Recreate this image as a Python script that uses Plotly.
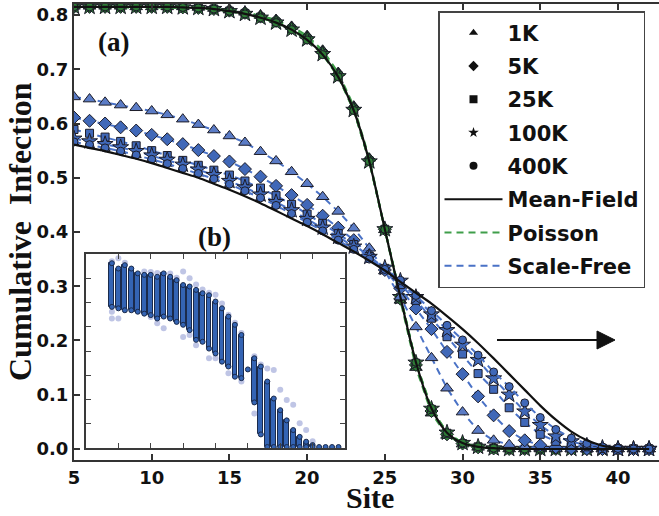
import plotly.graph_objects as go

# ---------------- data ----------------
sites = list(range(5, 43))

mf_poisson = [0.815, 0.815, 0.815, 0.815, 0.815, 0.815, 0.815, 0.814,
              0.813, 0.811, 0.807, 0.802, 0.795, 0.786, 0.773, 0.754, 0.727, 0.686, 0.624, 0.530,
              0.405, 0.280, 0.160, 0.075, 0.030, 0.011, 0.004, 0.0015, 0.0005,
              0.0, 0.0, 0.0, 0.0, 0.0, 0.0, 0.0, 0.0, 0.0]
mf_scalefree = [0.561, 0.555, 0.549, 0.542, 0.535, 0.527, 0.518, 0.509, 0.500, 0.489, 0.478,
                0.466, 0.453, 0.439, 0.425, 0.411, 0.396, 0.380, 0.364, 0.347, 0.329,
                0.308, 0.288, 0.268, 0.245, 0.221, 0.195, 0.167, 0.138, 0.109, 0.080,
                0.054, 0.032, 0.016, 0.006, 0.0015, 0.0002, 0.0]

pois_1k = [0.816, 0.816, 0.816, 0.816, 0.815, 0.815, 0.815, 0.815,
           0.814, 0.812, 0.809, 0.805, 0.799, 0.791, 0.779, 0.762, 0.735, 0.694, 0.632, 0.536,
           0.404, 0.274, 0.150, 0.066, 0.025, 0.009, 0.003, 0.001, 0.0,
           0.0, 0.0, 0.0, 0.0, 0.0, 0.0, 0.0, 0.0, 0.0]
pois_5k = [0.815, 0.815, 0.815, 0.815, 0.815, 0.815, 0.815, 0.814,
           0.813, 0.811, 0.808, 0.804, 0.797, 0.789, 0.776, 0.758, 0.731, 0.690, 0.628, 0.533,
           0.405, 0.277, 0.155, 0.070, 0.027, 0.010, 0.003, 0.001, 0.0,
           0.0, 0.0, 0.0, 0.0, 0.0, 0.0, 0.0, 0.0, 0.0]
pois_25k = [0.815, 0.815, 0.815, 0.815, 0.815, 0.815, 0.815, 0.814,
            0.813, 0.811, 0.807, 0.803, 0.796, 0.787, 0.774, 0.756, 0.729, 0.688, 0.626, 0.531,
            0.405, 0.279, 0.158, 0.073, 0.029, 0.010, 0.004, 0.001, 0.0,
            0.0, 0.0, 0.0, 0.0, 0.0, 0.0, 0.0, 0.0, 0.0]
pois_100k = [0.815, 0.815, 0.815, 0.815, 0.815, 0.815, 0.815, 0.814,
             0.813, 0.811, 0.807, 0.802, 0.795, 0.786, 0.773, 0.755, 0.728, 0.687, 0.625, 0.530,
             0.405, 0.280, 0.159, 0.074, 0.030, 0.011, 0.004, 0.001, 0.0,
             0.0, 0.0, 0.0, 0.0, 0.0, 0.0, 0.0, 0.0, 0.0]
pois_400k = [0.815, 0.815, 0.815, 0.815, 0.815, 0.815, 0.815, 0.814,
             0.813, 0.811, 0.807, 0.802, 0.795, 0.786, 0.773, 0.754, 0.727, 0.686, 0.624, 0.530,
             0.405, 0.280, 0.160, 0.075, 0.030, 0.011, 0.004, 0.0015, 0.0005,
             0.0, 0.0, 0.0, 0.0, 0.0, 0.0, 0.0, 0.0, 0.0]

sf_1k = [0.649, 0.645, 0.639, 0.634, 0.629, 0.623, 0.616, 0.608, 0.598, 0.588, 0.577,
         0.565, 0.548, 0.531, 0.511, 0.489, 0.465, 0.438, 0.407, 0.370, 0.328,
         0.280, 0.225, 0.168, 0.112, 0.068, 0.034, 0.016, 0.008, 0.004, 0.002,
         0.001, 0.0, 0.0, 0.0, 0.0, 0.0, 0.0]
sf_5k = [0.611, 0.605, 0.600, 0.593, 0.587, 0.579, 0.571, 0.562, 0.551, 0.540, 0.530,
         0.516, 0.502, 0.485, 0.468, 0.450, 0.430, 0.408, 0.385, 0.357, 0.330,
         0.296, 0.259, 0.221, 0.179, 0.138, 0.097, 0.062, 0.033, 0.016, 0.007,
         0.003, 0.001, 0.0, 0.0, 0.0, 0.0, 0.0]
sf_25k = [0.589, 0.582, 0.575, 0.567, 0.559, 0.550, 0.541, 0.532, 0.523, 0.514, 0.505,
          0.494, 0.481, 0.467, 0.451, 0.433, 0.416, 0.397, 0.377, 0.355, 0.333,
          0.303, 0.274, 0.241, 0.207, 0.175, 0.139, 0.110, 0.076, 0.049, 0.027,
          0.014, 0.008, 0.004, 0.001, 0.0, 0.0, 0.0]
sf_100k = [0.572, 0.567, 0.562, 0.556, 0.549, 0.541, 0.533, 0.524, 0.515, 0.505, 0.494,
           0.482, 0.469, 0.455, 0.440, 0.424, 0.408, 0.391, 0.373, 0.354, 0.334,
           0.310, 0.280, 0.248, 0.219, 0.192, 0.164, 0.130, 0.100, 0.069, 0.044,
           0.023, 0.014, 0.006, 0.002, 0.0, 0.0, 0.0]
sf_400k = [0.566, 0.561, 0.555, 0.549, 0.542, 0.534, 0.526, 0.517, 0.508, 0.498, 0.488,
           0.476, 0.463, 0.449, 0.434, 0.418, 0.402, 0.385, 0.368, 0.350, 0.331,
           0.311, 0.283, 0.255, 0.228, 0.201, 0.173, 0.142, 0.115, 0.085, 0.058,
           0.036, 0.020, 0.010, 0.004, 0.001, 0.0, 0.0]

size_labels = ["1K", "5K", "25K", "100K", "400K"]
size_symbols = ["triangle-up", "diamond", "square", "star", "circle"]

# inset (b): per-site spread of cumulative infection
inset_cols = [4, 5, 6, 7, 8, 9, 10, 11, 12, 13, 14, 15, 16, 17, 18, 19, 20, 21, 22, 23, 24,
              26, 27, 28, 29, 30, 31, 32, 33, 34, 35]
inset_hi = [0.381, 0.370, 0.377, 0.370, 0.360, 0.357, 0.357, 0.353, 0.360, 0.353, 0.346,
            0.336, 0.333, 0.326, 0.319, 0.315, 0.302, 0.288, 0.271, 0.254, 0.233,
            0.185, 0.168, 0.137, 0.102, 0.078, 0.057, 0.037, 0.023, 0.013, 0.006]
inset_lo = [0.291, 0.288, 0.284, 0.284, 0.281, 0.277, 0.274, 0.267, 0.271, 0.267, 0.260,
            0.254, 0.243, 0.223, 0.219, 0.205, 0.195, 0.178, 0.168, 0.147, 0.144,
            0.094, 0.028, 0.002, 0.002, 0.002, 0.002, 0.002, 0.002, 0.002, 0.002]
inset_single_x = [25, 36, 37, 38, 39]
inset_single_y = [0.162, 0.002, 0.002, 0.002, 0.002]
inset_out_x = [4, 4, 4, 5, 5, 6, 9, 10, 10, 11, 11, 12, 13, 14, 15, 15, 16, 16, 17, 17,
               18, 19, 19, 20, 20, 21, 22, 22, 23, 24, 24, 26, 26, 27, 28, 29, 30, 31, 32,
               33, 34, 35]
inset_out_y = [0.385, 0.281, 0.267, 0.391, 0.267, 0.382, 0.364, 0.363, 0.270, 0.361, 0.257,
               0.247, 0.360, 0.351, 0.364, 0.229, 0.350, 0.233, 0.337, 0.212, 0.327, 0.320,
               0.185, 0.316, 0.185, 0.298, 0.275, 0.154, 0.258, 0.237, 0.137, 0.189, 0.071,
               0.172, 0.164, 0.161, 0.120, 0.099, 0.089, 0.051, 0.037, 0.014]

# ---------------- layout helpers ----------------
W, H = 659, 516
ML, MR, MT, MB = 74, 0, 4, 56
PW = W - ML - MR
PH = H - MT - MB


def pxx(px):
    return (px - ML) / PW


def pxy(py):
    return (H - MB - py) / PH


BLUE_LINE = "#4a72c6"
BLUE_FILL = "#4068b8"
TRI_FILL = "#5b7cc6"
GREEN_LINE = "#3f9e4a"
GREEN_FILL = "#2e7b36"
EDGE = "#1c1c28"

fig = go.Figure()

# ---- inset traces ----
fig.add_trace(go.Bar(
    x=inset_cols, y=[h - l for h, l in zip(inset_hi, inset_lo)], base=inset_lo,
    width=0.75, marker=dict(color="#3464b4", line=dict(color="#1b2b4c", width=1)),
    xaxis="x2", yaxis="y2", showlegend=False, hoverinfo="skip"))
fig.add_trace(go.Scatter(
    x=inset_out_x, y=inset_out_y, mode="markers",
    marker=dict(size=6, color="rgba(95,110,190,0.40)", line=dict(width=0)),
    xaxis="x2", yaxis="y2", showlegend=False, hoverinfo="skip"))
fig.add_trace(go.Scatter(
    x=inset_cols + inset_cols, y=inset_hi + inset_lo, mode="markers",
    marker=dict(size=5, color="#3464b4", line=dict(color="#1b2b4c", width=1)),
    xaxis="x2", yaxis="y2", showlegend=False, hoverinfo="skip"))
fig.add_trace(go.Scatter(
    x=inset_single_x, y=inset_single_y, mode="markers",
    marker=dict(size=5, color="#3464b4", line=dict(color="#1b2b4c", width=1)),
    xaxis="x2", yaxis="y2", showlegend=False, hoverinfo="skip"))

# ---- Poisson (green) ----
pois_series = [pois_1k, pois_5k, pois_25k, pois_100k, pois_400k]
sf_series = [sf_1k, sf_5k, sf_25k, sf_100k, sf_400k]
msizes = [11, 10, 8, 12, 8]

for vals, sym, ms in zip(pois_series, size_symbols, msizes):
    fig.add_trace(go.Scatter(
        x=sites, y=vals, mode="lines+markers",
        line=dict(color=GREEN_LINE, width=2, dash="7px,5px"),
        marker=dict(symbol=sym, size=ms, color=GREEN_FILL, line=dict(color=EDGE, width=1)),
        showlegend=False, hoverinfo="skip"))

for i, (vals, sym, ms) in enumerate(zip(sf_series, size_symbols, msizes)):
    fig.add_trace(go.Scatter(
        x=sites, y=vals, mode="lines+markers",
        line=dict(color=BLUE_LINE, width=2, dash="7px,5px"),
        marker=dict(symbol=sym, size=ms, color=TRI_FILL if i == 0 else BLUE_FILL,
                    line=dict(color=EDGE, width=1)),
        showlegend=False, hoverinfo="skip"))

# ---- mean-field curves ----
for vals in (mf_poisson, mf_scalefree):
    fig.add_trace(go.Scatter(
        x=sites, y=vals, mode="lines", line=dict(color="#111111", width=2.2, shape="spline", smoothing=0.8),
        showlegend=False, hoverinfo="skip"))

# ---- legend entries ----
for k, (lab, sym) in enumerate(zip(size_labels, size_symbols)):
    fig.add_trace(go.Scatter(
        x=[None], y=[None], mode="markers", name=lab, legendgroup=f"g{k}",
        marker=dict(symbol=sym, size=8, color="#111111", line=dict(width=0))))
fig.add_trace(go.Scatter(x=[None], y=[None], mode="lines", name="Mean-Field", legendgroup="g5",
                         line=dict(color="#111111", width=2)))
fig.add_trace(go.Scatter(x=[None], y=[None], mode="lines", name="Poisson", legendgroup="g6",
                         line=dict(color=GREEN_LINE, width=2, dash="7px,5px")))
fig.add_trace(go.Scatter(x=[None], y=[None], mode="lines", name="Scale-Free", legendgroup="g7",
                         line=dict(color=BLUE_LINE, width=2, dash="7px,5px")))

tickfont = dict(family="DejaVu Sans", size=18, color="#111111", weight="bold")
serif = "Liberation Serif"

fig.update_layout(
    template="none",
    width=W, height=H,
    margin=dict(l=ML, r=MR, t=MT, b=MB, autoexpand=False),
    paper_bgcolor="white", plot_bgcolor="white",
    xaxis=dict(range=[5, 42.64], domain=[0, 1], tickvals=[5, 10, 15, 20, 25, 30, 35, 40],
               ticks="inside", ticklen=6, tickwidth=1.5, tickcolor="#333",
               showline=True, linecolor="#333", linewidth=2, mirror="ticks",
               showgrid=False, zeroline=False, tickfont=tickfont, automargin=False),
    yaxis=dict(range=[-0.0203, 0.8203], domain=[0, 1],
               tickvals=[0, 0.1, 0.2, 0.3, 0.4, 0.5, 0.6, 0.7, 0.8], tickformat=".1f",
               ticks="inside", ticklen=6, tickwidth=1.5, tickcolor="#333",
               showline=True, linecolor="#333", linewidth=2, mirror=False,
               showgrid=False, zeroline=False, tickfont=tickfont, automargin=False),
    xaxis2=dict(range=[0, 40], domain=[pxx(86), pxx(345)], anchor="y2", dtick=5,
                ticks="inside", ticklen=5, tickwidth=1, tickcolor="#444",
                showline=True, linecolor="#3a3a3a", linewidth=2, mirror="ticks",
                showticklabels=False, showgrid=False, zeroline=False, automargin=False),
    yaxis2=dict(range=[0, 0.4], domain=[pxy(448), pxy(254)], anchor="x2", dtick=0.05,
                ticks="inside", ticklen=5, tickwidth=1, tickcolor="#444",
                showline=True, linecolor="#3a3a3a", linewidth=2, mirror="ticks",
                showticklabels=False, showgrid=False, zeroline=False, automargin=False),
    showlegend=True,
    legend=dict(x=pxx(438), y=pxy(11), xanchor="left", yanchor="top",
                bgcolor="white", bordercolor="#444", borderwidth=1.5,
                font=dict(family="DejaVu Sans", size=21, color="#111111", weight="bold"),
                itemwidth=58, traceorder="grouped", tracegroupgap=3),
    bargap=0,
)

annos = [
    dict(text="Site", x=pxx(370), y=pxy(497), font=dict(family=serif, size=30, color="#111", weight="bold")),
    dict(text="Cumulative\u00a0\u00a0Infection", x=pxx(20), y=pxy(232), textangle=-90,
         font=dict(family=serif, size=32, color="#111", weight="bold")),
    dict(text="(a)", x=pxx(113), y=pxy(42), font=dict(family=serif, size=27, color="#111", weight="bold")),
    dict(text="(b)", x=pxx(214), y=pxy(237), font=dict(family=serif, size=27, color="#111", weight="bold")),
]
for a in annos:
    fig.add_annotation(xref="paper", yref="paper", showarrow=False, xanchor="center",
                       yanchor="middle", **a)

# arrow
fig.add_shape(type="line", xref="paper", yref="paper", x0=pxx(497), x1=pxx(599), y0=pxy(340), y1=pxy(340),
              line=dict(color="#111", width=2))
fig.add_shape(type="path", xref="paper", yref="paper",
              path=f"M {pxx(597)} {pxy(331)} L {pxx(615)} {pxy(340)} L {pxx(597)} {pxy(349)} Z",
              fillcolor="#111", line=dict(color="#111", width=1))

fig.write_html("out.html", config={"displayModeBar": False},
               post_script="document.body.style.margin='0px';")
